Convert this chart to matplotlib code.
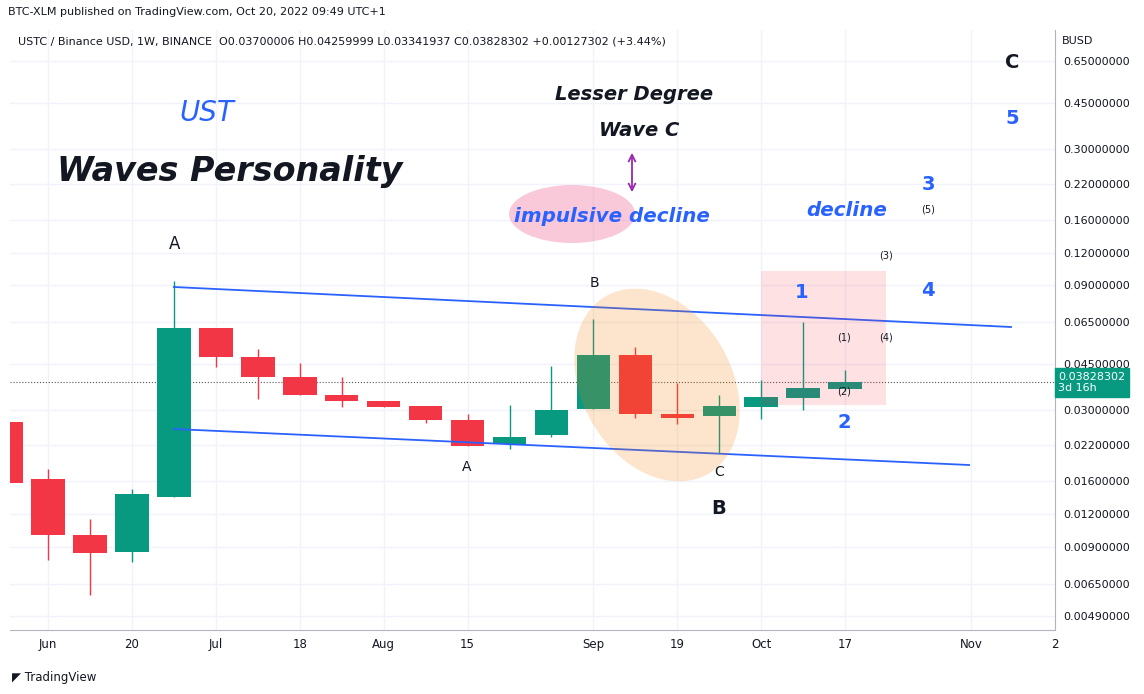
import numpy as np
import matplotlib
matplotlib.use("Agg")
import matplotlib.pyplot as plt
from matplotlib.patches import Ellipse, Rectangle, FancyArrowPatch
from matplotlib.transforms import Affine2D

W, H = 1144, 694
# weekly candles, index 0 = May 30 2022
opens  = [0.0271, 0.0164, 0.0100, 0.0086, 0.0139, 0.0621, 0.0480, 0.0401, 0.0343, 0.0325, 0.0311, 0.0275, 0.0222, 0.0240, 0.0304, 0.0488, 0.0289, 0.0284, 0.0308, 0.0334, 0.0361]
closes = [0.0158, 0.0100, 0.0085, 0.0143, 0.0621, 0.0480, 0.0401, 0.0343, 0.0325, 0.0309, 0.0275, 0.0219, 0.0236, 0.0301, 0.0488, 0.0291, 0.0280, 0.0312, 0.0336, 0.0365, 0.0383]
highs  = [0.0271, 0.0178, 0.0115, 0.0150, 0.0937, 0.0621, 0.0513, 0.0456, 0.0400, 0.0325, 0.0311, 0.0290, 0.0313, 0.0443, 0.0668, 0.0523, 0.0380, 0.0342, 0.0390, 0.0650, 0.0426]
lows   = [0.0158, 0.0080, 0.0059, 0.0079, 0.0139, 0.0437, 0.0330, 0.0343, 0.0308, 0.0309, 0.0267, 0.0219, 0.0213, 0.0236, 0.0304, 0.0280, 0.0265, 0.0206, 0.0277, 0.0300, 0.0356]
tick_vals = [0.65, 0.45, 0.30, 0.22, 0.16, 0.12, 0.09, 0.065, 0.045, 0.03, 0.022, 0.016, 0.012, 0.009, 0.0065, 0.0049]
x_ticks = [1, 3, 5, 7, 9, 11, 14, 16, 18, 20, 23, 25]
x_labels = ["Jun", "20", "Jul", "18", "Aug", "15", "Sep", "19", "Oct", "17", "Nov", "2"]
last_price = 0.03828302

def px(x, y):
    return (x - 6) / 42.0, 0.65 * np.exp(-(y - 61) / 113.5)

fig = plt.figure(figsize=(W/100, H/100), dpi=100)
ax = fig.add_axes([10/W, 64/H, 1045/W, 600/H])
ax.set_yscale("log")
ax.set_xlim(px(10, 0)[0], px(1055, 0)[0])
ax.set_ylim(px(0, 630)[1], px(0, 30)[1])
green, red = "#089981", "#F23645"
for i, (o, c, h, l) in enumerate(zip(opens, closes, highs, lows)):
    col = green if c >= o else red
    ax.vlines(i, l, h, color=col, lw=1, zorder=3)
    ax.add_patch(Rectangle((i - 0.4, min(o, c)), 0.8, abs(c - o), color=col, zorder=3, lw=0))
ax.yaxis.tick_right()
ax.set_yticks(tick_vals)
ax.set_yticklabels([f"{v:.8f}" for v in tick_vals], fontsize=8, color="#131722")
ax.minorticks_off()
ax.set_xticks(x_ticks)
ax.set_xticklabels(x_labels, fontsize=8.5, color="#131722")
ax.tick_params(length=0, pad=6)
ax.grid(color="#f0f3fa", lw=1)
for s in ["top", "left"]:
    ax.spines[s].set_visible(False)
for s in ["right", "bottom"]:
    ax.spines[s].set_color("#b2b5be")
ax.axhline(last_price, color="#555", ls=":", lw=0.8, zorder=2)
ax.text(1.003, np.interp(np.log(last_price), [np.log(px(0,630)[1]), np.log(px(0,30)[1])], [0, 1]),
        "0.03828302\n3d 16h", transform=ax.transAxes, fontsize=8, color="white", va="center",
        bbox=dict(boxstyle="square,pad=0.3", fc=green, ec=green), clip_on=False)

# channel lines
for (x1, y1, x2, y2) in [(174, 287, 1012, 327), (174, 429, 970, 465)]:
    a, b = px(x1, y1), px(x2, y2)
    ax.plot([a[0], b[0]], [a[1], b[1]], color="#2962ff", lw=1.3, zorder=4)

pt = Affine2D().scale(1/W, -1/H).translate(0, 1) + fig.transFigure
fig.patches.append(Ellipse((657, 385), 150, 205, angle=-30, transform=pt, fc="#f57c00", alpha=0.2, ec="none", figure=fig))
fig.patches.append(Ellipse((572, 214), 126, 58, transform=pt, fc="#f06292", alpha=0.35, ec="none", figure=fig))
fig.patches.append(Rectangle((761, 271), 125, 134, transform=pt, fc="#f23645", alpha=0.15, ec="none", figure=fig))
fig.patches.append(FancyArrowPatch((632, 150), (632, 195), transform=pt, arrowstyle="<->", mutation_scale=12, color="#9c27b0", lw=1.3, figure=fig))

def t(x, y, s, **kw):
    fig.text(x/W, 1 - y/H, s, ha=kw.pop("ha", "center"), va=kw.pop("va", "center"), **kw)

blue = "#2962ff"
t(207, 113, "UST", fontsize=20, style="italic", color=blue)
t(230, 172, "Waves Personality", fontsize=24, style="italic", weight="bold", color="#131722")
t(634, 94, "Lesser Degree", fontsize=14, style="italic", weight="bold", color="#131722")
t(639, 131, "Wave C", fontsize=14, style="italic", weight="bold", color="#131722")
t(612, 216, "impulsive decline", fontsize=14.3, style="italic", weight="bold", color=blue)
t(847, 211, "decline", fontsize=14.3, style="italic", weight="bold", color=blue)
for (x, y, s, fs, c) in [(175, 244, "A", 12, "#131722"), (594, 283, "B", 10, "#131722"),
                         (467, 467, "A", 10, "#131722"), (719, 472, "C", 10, "#131722"),
                         (719, 509, "B", 14, "#131722"), (1012, 63, "C", 14, "#131722"),
                         (1012, 119, "5", 14, blue), (928, 185, "3", 14, blue),
                         (928, 290, "4", 14, blue), (802, 292, "1", 14, blue), (844, 423, "2", 14, blue),
                         (928, 210, "(5)", 7, "#131722"), (886, 255, "(3)", 7, "#131722"),
                         (844, 338, "(1)", 7, "#131722"), (886, 337, "(4)", 7, "#131722"),
                         (844, 392, "(2)", 7, "#131722")]:
    t(x, y, s, fontsize=fs, color=c, weight="bold" if fs >= 13 else "normal")

t(18, 41, "USTC / Binance USD, 1W, BINANCE  O0.03700006 H0.04259999 L0.03341937 C0.03828302 +0.00127302 (+3.44%)",
  fontsize=8, ha="left", color="#131722")
t(1062, 41, "BUSD", fontsize=8, ha="left", color="#131722")
t(8, 12, "BTC-XLM published on TradingView.com, Oct 20, 2022 09:49 UTC+1", fontsize=8, ha="left", color="#131722")
t(12, 677, "◤ TradingView", fontsize=8.5, ha="left", color="#131722")
fig.savefig("out.png", dpi=100)
